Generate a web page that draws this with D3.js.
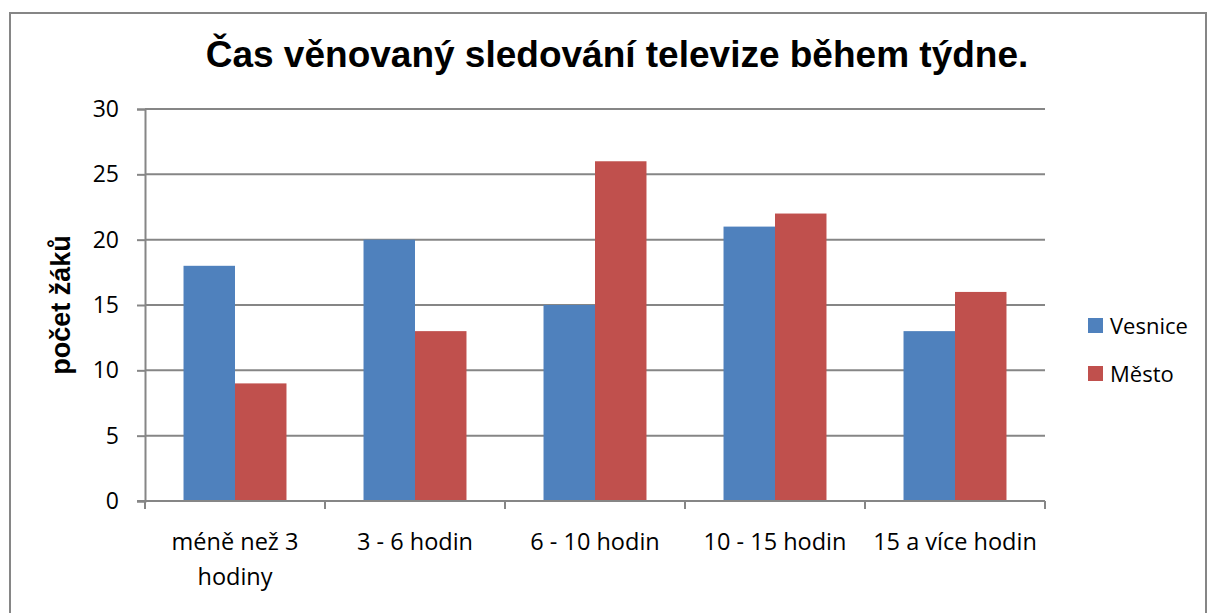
<!DOCTYPE html>
<html>
<head>
<meta charset="utf-8">
<script src="https://cdn.jsdelivr.net/npm/d3@7"></script>
<style>
  body { margin: 0; background: #fff; }
  svg { display: block; }
</style>
</head>
<body>
<svg id="chart" width="1208" height="613"></svg>
<script>
// Data
var categories = ["méně než 3 hodiny", "3 - 6 hodin", "6 - 10 hodin", "10 - 15 hodin", "15 a více hodin"];
var seriesNames = ["Vesnice", "Město"];
var vesnice = [18, 20, 15, 21, 13];
var mesto = [9, 13, 26, 22, 16];
var yTicks = [0, 5, 10, 15, 20, 25, 30];

var colors = ["#4F81BD", "#C0504D"];
var labelFont = "'Open Sans', 'Liberation Sans', sans-serif";
var boldFont = "'Liberation Sans', Arial, sans-serif";

var svg = d3.select("#chart");

// outer frame
svg.append("rect")
    .attr("x", 10)
    .attr("y", 13)
    .attr("width", 1196)
    .attr("height", 620)
    .attr("fill", "none")
    .attr("stroke", "#868686")
    .attr("stroke-width", 2);

var plot = { left: 145, right: 1045, top: 109, bottom: 501 };

var x0 = d3.scaleBand()
    .domain(categories)
    .range([plot.left, plot.right])
    .paddingInner(0.428)
    .paddingOuter(0.214);

var x1 = d3.scaleBand()
    .domain(seriesNames)
    .range([0, x0.bandwidth()]);

var y = d3.scaleLinear()
    .domain([0, 30])
    .range([plot.bottom, plot.top]);

// gridlines
svg.append("g")
    .selectAll("line")
    .data(yTicks.slice(1))
    .enter()
    .append("line")
    .attr("x1", plot.left)
    .attr("x2", plot.right)
    .attr("y1", function(d) { return y(d); })
    .attr("y2", function(d) { return y(d); })
    .attr("stroke", "#868686")
    .attr("stroke-width", 2);

// bars
var table = categories.map(function(c, i) {
    return { cat: c, values: [vesnice[i], mesto[i]] };
});

var groups = svg.append("g")
    .selectAll("g")
    .data(table)
    .enter()
    .append("g")
    .attr("transform", function(d) { return "translate(" + x0(d.cat) + ",0)"; });

groups.selectAll("rect")
    .data(function(d) {
        return d.values.map(function(v, j) { return { name: seriesNames[j], value: v, j: j }; });
    })
    .enter()
    .append("rect")
    .attr("x", function(d) { return x1(d.name); })
    .attr("y", function(d) { return y(d.value); })
    .attr("width", x1.bandwidth())
    .attr("height", function(d) { return y(0) - y(d.value); })
    .attr("fill", function(d) { return colors[d.j]; });

// y axis
var yAxis = d3.axisLeft(y)
    .tickValues(yTicks)
    .tickSize(8)
    .tickPadding(18)
    .tickFormat(d3.format("d"));

var yg = svg.append("g")
    .attr("transform", "translate(" + plot.left + ",0)")
    .call(yAxis);
yg.select(".domain").attr("stroke", "#868686").attr("stroke-width", 2);
yg.selectAll(".tick line").attr("stroke", "#868686").attr("stroke-width", 2);
yg.selectAll(".tick text")
    .style("font-family", labelFont)
    .style("font-size", "23px")
    .attr("fill", "#000");

// x axis
var catEdges = categories.map(function(c) { return x0(c) - x0.step() * x0.paddingInner() / 2; });
catEdges.push(plot.right);

var xg = svg.append("g");
xg.append("line")
    .attr("x1", plot.left - 8)
    .attr("x2", plot.right)
    .attr("y1", y(0))
    .attr("y2", y(0))
    .attr("stroke", "#868686")
    .attr("stroke-width", 2);
xg.selectAll(".xtick")
    .data(catEdges)
    .enter()
    .append("line")
    .attr("class", "xtick")
    .attr("x1", function(d) { return d; })
    .attr("x2", function(d) { return d; })
    .attr("y1", y(0))
    .attr("y2", y(0) + 8)
    .attr("stroke", "#868686")
    .attr("stroke-width", 2);

var xLabelLines = [["méně než 3", "hodiny"], ["3 - 6 hodin"], ["6 - 10 hodin"], ["10 - 15 hodin"], ["15 a více hodin"]];
xg.selectAll(".xlabel")
    .data(categories)
    .enter()
    .append("text")
    .attr("class", "xlabel")
    .attr("text-anchor", "middle")
    .style("font-family", labelFont)
    .style("font-size", "23.5px")
    .attr("fill", "#000")
    .each(function(d, i) {
        var t = d3.select(this);
        var cx = x0(d) + x0.bandwidth() / 2;
        xLabelLines[i].forEach(function(line, k) {
            t.append("tspan")
                .attr("x", cx)
                .attr("y", 550 + k * 35)
                .text(line);
        });
    });

// title
svg.append("text")
    .attr("x", 617)
    .attr("y", 67)
    .attr("text-anchor", "middle")
    .style("font-family", boldFont)
    .style("font-weight", "bold")
    .style("font-size", "37px")
    .text("Čas věnovaný sledování televize během týdne.");

// y axis title
svg.append("text")
    .attr("transform", "translate(70," + ((plot.top + plot.bottom) / 2) + ") rotate(-90)")
    .attr("text-anchor", "middle")
    .style("font-family", boldFont)
    .style("font-weight", "bold")
    .style("font-size", "27px")
    .text("počet žáků");

// legend
var legend = svg.append("g")
    .selectAll("g")
    .data(seriesNames)
    .enter()
    .append("g")
    .attr("transform", function(d, i) { return "translate(1088," + (318 + i * 48) + ")"; });
legend.append("rect")
    .attr("width", 15)
    .attr("height", 15)
    .attr("fill", function(d, i) { return colors[i]; });
legend.append("text")
    .attr("x", 22)
    .attr("y", 16)
    .style("font-family", labelFont)
    .style("font-size", "22px")
    .text(function(d) { return d; });
</script>
</body>
</html>
